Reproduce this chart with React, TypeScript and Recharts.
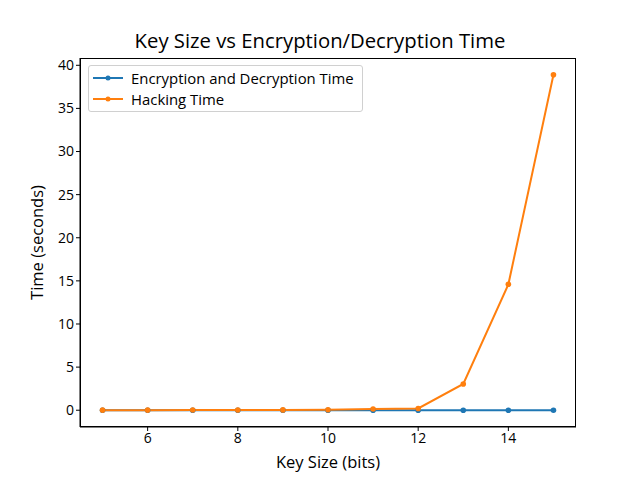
import React from "react";
import { LineChart, Line, XAxis, YAxis } from "recharts";

const keySizes = [5, 6, 7, 8, 9, 10, 11, 12, 13, 14, 15];
const encDecTime = [0.001, 0.001, 0.001, 0.001, 0.001, 0.001, 0.002, 0.002, 0.003, 0.004, 0.005];
const hackingTime = [0.01, 0.01, 0.02, 0.03, 0.04, 0.06, 0.15, 0.2, 3.05, 14.6, 38.9];
const xTicks = [6, 8, 10, 12, 14];
const yTicks = [0, 5, 10, 15, 20, 25, 30, 35, 40];

const data = keySizes.map((k, i) => ({ k, enc: encDecTime[i], hack: hackingTime[i] }));

const FONT = "'Open Sans', 'DejaVu Sans', sans-serif";
const BLUE = "#1f77b4";
const ORANGE = "#ff7f0e";

const legendItems = [
  { label: "Encryption and Decryption Time", color: BLUE },
  { label: "Hacking Time", color: ORANGE },
];

const LegendBox = () => (
  <div
    style={{
      position: "absolute",
      left: 88,
      top: 65,
      border: "1px solid #d0d0d0",
      borderRadius: 3,
      background: "rgba(255,255,255,0.8)",
      padding: "1px 8px 2px 4px",
      fontFamily: FONT,
      fontSize: 14.9,
      color: "#000",
    }}
  >
    {legendItems.map((it) => (
      <div key={it.label} style={{ display: "flex", alignItems: "center", height: 21 }}>
        <svg width={30} height={10} style={{ marginRight: 8 }}>
          <line x1={0} y1={5} x2={30} y2={5} stroke={it.color} strokeWidth={2} />
          <circle cx={15} cy={5} r={2.5} fill={it.color} />
        </svg>
        <span>{it.label}</span>
      </div>
    ))}
  </div>
);

export default function App() {
  return (
    <div style={{ position: "absolute", left: 0, top: 0, width: 640, height: 480, background: "#fff" }}>
      <div
        style={{
          position: "absolute",
          left: 0,
          top: 26,
          width: 640,
          textAlign: "center",
          fontFamily: FONT,
          fontSize: 20.3,
          color: "#000",
        }}
      >
        Key Size vs Encryption/Decryption Time
      </div>
      <LineChart width={640} height={480} data={data} margin={{ top: 58, right: 64, bottom: 0, left: 0 }}>
        <XAxis
          dataKey="k"
          type="number"
          domain={[4.5, 15.5]}
          ticks={xTicks}
          height={53}
          tickSize={4}
          stroke="#000"
          tick={{ fill: "#000", fontSize: 14, fontFamily: FONT }}
          label={{ value: "Key Size (bits)", position: "insideBottom", offset: 12, fill: "#000", fontSize: 16.5, fontFamily: FONT }}
        />
        <YAxis
          type="number"
          domain={[-1.945, 40.845]}
          ticks={yTicks}
          width={80}
          tickSize={4}
          allowDataOverflow
          stroke="#000"
          tick={{ fill: "#000", fontSize: 14, fontFamily: FONT }}
          label={{ value: "Time (seconds)", angle: -90, position: "insideLeft", offset: 37, fill: "#000", fontSize: 16.5, fontFamily: FONT, style: { textAnchor: "middle" } }}
        />
        <Line
          dataKey="enc"
          name="Encryption and Decryption Time"
          stroke={BLUE}
          strokeWidth={2}
          dot={{ r: 2.8, fill: BLUE, stroke: BLUE, strokeWidth: 0 }}
          isAnimationActive={false}
        />
        <Line
          dataKey="hack"
          name="Hacking Time"
          stroke={ORANGE}
          strokeWidth={2}
          dot={{ r: 2.8, fill: ORANGE, stroke: ORANGE, strokeWidth: 0 }}
          isAnimationActive={false}
        />
      </LineChart>
      <div
        style={{
          position: "absolute",
          left: 80,
          top: 58,
          width: 496,
          height: 369,
          boxSizing: "border-box",
          border: "1px solid #000",
          pointerEvents: "none",
        }}
      />
      <LegendBox />
    </div>
  );
}
